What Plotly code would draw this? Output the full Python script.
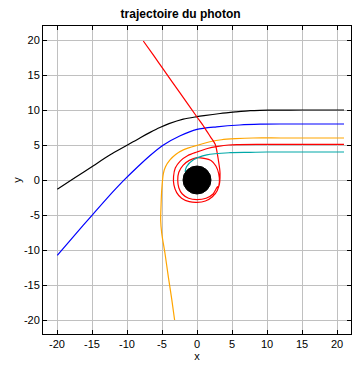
import plotly.graph_objects as go

# Trajectories (x, y) – photons arrive from the right
black_x = [21, 15, 11, 9, 7.6, 5.5, 3.3, 1, 0, -1.96, -4, -5.3, -6.7, -8.1, -10.0, -12.4, -14.8, -17.4, -19.96]
black_y = [10, 10, 9.98, 9.95, 9.9, 9.72, 9.5, 9.2, 9.05, 8.7, 8.05, 7.5, 6.8, 6.05, 4.95, 3.6, 2.05, 0.35, -1.33]

blue_x = [21, 12, 9, 6.1, 2.8, 0, -2.4, -4.8, -6.7, -8.5, -10.5, -12.8, -15.0, -17.5, -19.96]
blue_y = [8, 8, 7.97, 7.86, 7.6, 7.24, 6.33, 5.0, 3.5, 1.85, -0.1, -2.55, -5.05, -7.9, -10.76]

orange_x = [21, 12, 8, 5.5, 3.5, 2.0, 0.2, -1.96, -3.05, -3.86, -4.5, -4.8, -5.04, -5.14, -5.19, -5.04, -4.57, -4.1, -3.6, -3.2]
orange_y = [6, 6, 6.0, 5.9, 5.75, 5.5, 5.0, 4.3, 3.64, 2.86, 1.9, 0.96, -1.43, -3.8, -5.7, -7.6, -10.5, -13.8, -17.1, -20]

red_x = [21, 10, 6, 4.5, 3, 1.5, 0, -1.3, -2.4, -3.1, -3.35, -3.3, -2.9, -2.2, -1.1, 0, 1.2, 2.2, 2.9, 3.2,
         3.1, 2.7, 2.0, 1.0, 0, -1.1, -2.0, -2.6, -2.75, -2.6, -2.1, -1.2, 0, 1.3, 2.3, 2.9, 3.1, 3.29,
         3.05, 2.6, 1.9, 1.0, 0, -2.43, -4.8, -6.2, -7.67]
red_y = [5.1, 5.1, 5.05, 5.0, 4.8, 4.5, 4.0, 3.5, 2.7, 1.7, 0.5, -0.7, -1.8, -2.6, -3.1, -3.2, -3.0, -2.4, -1.5, -0.3,
         0.9, 2.0, 2.8, 3.1, 3.2, 2.8, 2.1, 1.1, 0, -1.1, -2.0, -2.6, -2.8, -2.6, -2.0, -1.0, -0.9, 0.96,
         2.86, 5.1, 6.2, 7.6, 9.0, 12.44, 15.8, 17.8, 19.86]

cyan_x = [21, 10, 7.6, 4.7, 1.4, -0.5, -1.5, -1.7]
cyan_y = [4, 4, 3.95, 3.9, 3.6, 2.9, 1.9, 1.15]

horizon_radius = 2

x_ticks = [-20, -15, -10, -5, 0, 5, 10, 15, 20]
x_labels = ["-20", "-15", "-10", "-5", "0", "5", "10", "15", "20"]
y_ticks = [-20, -15, -10, -5, 0, 5, 10, 15, 20]
y_labels = ["-20", "-15", "-10", "-5", "0", "5", "10", "15", "20"]

FONT = "Liberation Sans, Arial, sans-serif"

fig = go.Figure()
series = [
    (black_x, black_y, "black"),
    (blue_x, blue_y, "#0000ff"),
    (orange_x, orange_y, "#ffa500"),
    (red_x, red_y, "#ff0000"),
    (cyan_x, cyan_y, "#00a8a8"),
]
for xs, ys, c in series:
    fig.add_trace(go.Scatter(x=xs, y=ys, mode="lines", line=dict(color=c, width=1.2),
                             line_shape="spline", line_smoothing=0.8,
                             showlegend=False, hoverinfo="skip"))

fig.add_shape(type="circle", xref="x", yref="y",
              x0=-horizon_radius, y0=-horizon_radius, x1=horizon_radius, y1=horizon_radius,
              fillcolor="black", line=dict(color="black", width=1), layer="above")

axis_common = dict(
    showgrid=True, gridcolor="#c0c0c0", gridwidth=1, automargin=False,
    zeroline=False, showline=True, linecolor="black", linewidth=1, mirror="ticks",
    ticks="inside", ticklen=4, tickcolor="black",
    tickfont=dict(family=FONT, size=11, color="black"),
)
fig.update_xaxes(range=[-22, 22], tickvals=x_ticks, ticktext=x_labels,
                 title=dict(text="x", standoff=0, font=dict(family=FONT, size=11, color="black")),
                 **axis_common)
fig.update_yaxes(range=[-22, 22], tickvals=y_ticks, ticktext=y_labels,
                 title=dict(text="y", standoff=0, font=dict(family=FONT, size=11, color="black")),
                 **axis_common)

fig.update_layout(
    width=353, height=359,
    margin=dict(l=35, r=10, t=18, b=33, autoexpand=False),
    paper_bgcolor="white", plot_bgcolor="white",
    title=dict(text="<b>trajectoire du photon</b>", x=0.489, xanchor="center",
               y=0.984, yanchor="middle", automargin=False,
               font=dict(family=FONT, size=12, color="black")),
)
fig.write_html("out.html")
